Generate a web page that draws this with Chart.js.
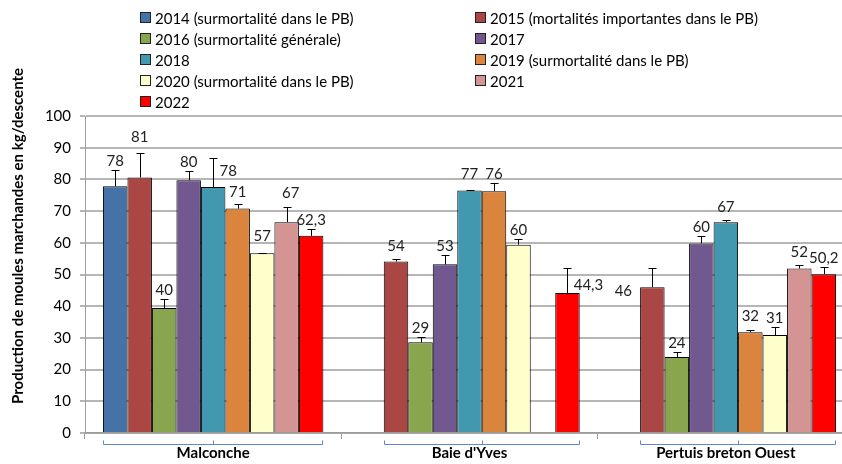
<!DOCTYPE html>
<html>
<head>
<meta charset="utf-8">
<script src="https://cdn.jsdelivr.net/npm/chart.js@4.4.1/dist/chart.umd.min.js"></script>
<style>
  html, body { margin: 0; padding: 0; overflow: hidden; background: #fff; }
  #wrap { position: relative; width: 860px; height: 464px; }
  #legend {
    position: absolute; left: 140px; top: 7px;
    display: grid; grid-template-columns: 335px 300px; grid-auto-rows: 21px;
    font-family: Lato, sans-serif; font-size: 15px; color: #000;
  }
  #legend div { display: flex; align-items: center; white-space: nowrap; }
  #legend span.box { width: 9px; height: 9px; border: 1px solid #222; margin-right: 4px; flex: none; }
</style>
</head>
<body>
<div id="wrap">
  <canvas id="chart"></canvas>
  <div id="legend"></div>
</div>
<script>
const categories = ['Malconche', "Baie d'Yves", 'Pertuis breton Ouest'];
const yTicks = [0, 10, 20, 30, 40, 50, 60, 70, 80, 90, 100];

const seriesNames = [
  '2014 (surmortalité dans le PB)',
  '2015 (mortalités importantes dans le PB)',
  '2016 (surmortalité générale)',
  '2017',
  '2018',
  '2019 (surmortalité dans le PB)',
  '2020 (surmortalité dans le PB)',
  '2021',
  '2022'
];
const seriesColors = ['#4572A7', '#AA4643', '#89A54E', '#71588F', '#4198AF', '#DB843D', '#FFFFCC', '#D49494', '#FF0000'];

// bar heights per year, one value per site
const v2014 = [77.8, null, null];
const v2015 = [80.6, 54.1, 46.0];
const v2016 = [39.4, 28.6, 24.0];
const v2017 = [79.7, 53.2, 59.8];
const v2018 = [77.6, 76.5, 66.5];
const v2019 = [70.8, 76.3, 31.8];
const v2020 = [56.7, 59.4, 30.9];
const v2021 = [66.5, null, 51.9];
const v2022 = [62.2, 44.2, 50.1];

// top of the error bars
const e2014 = [82.9, null, null];
const e2015 = [88.2, 54.8, 51.9];
const e2016 = [42.2, 30.2, 25.5];
const e2017 = [82.8, 56.1, 62.2];
const e2018 = [86.8, 76.5, 67.3];
const e2019 = [72.2, 78.9, 32.4];
const e2020 = [56.8, 61.3, 33.3];
const e2021 = [71.2, null, 52.9];
const e2022 = [64.4, 52.1, 52.3];

// value labels as printed
const l2014 = ['78', null, null];
const l2015 = ['81', '54', '46'];
const l2016 = ['40', '29', '24'];
const l2017 = ['80', '53', '60'];
const l2018 = ['78', '77', '67'];
const l2019 = ['71', '76', '32'];
const l2020 = ['57', '60', '31'];
const l2021 = ['67', null, '52'];
const l2022 = ['62,3', '44,3', '50,2'];

const values = [v2014, v2015, v2016, v2017, v2018, v2019, v2020, v2021, v2022];
const errTops = [e2014, e2015, e2016, e2017, e2018, e2019, e2020, e2021, e2022];
const labels = [l2014, l2015, l2016, l2017, l2018, l2019, l2020, l2021, l2022];

// hand-placed labels (series, site) -> [dx, dy]
const nudge = {
  '1,0': [0, -7], '4,0': [15, 22], '6,0': [0, -8], '7,0': [4, -5], '5,0': [0, -3],
  '1,1': [0, -4], '4,1': [0, -7], '8,1': [21, 26],
  '1,2': [-29, 32], '5,2': [0, -5], '4,2': [0, -4], '7,2': [0, -4]
};

const FONT = 'Lato, sans-serif';

const errorBars = {
  id: 'errorBars',
  afterDatasetsDraw(chart) {
    const { ctx } = chart;
    const y = chart.scales.y;
    ctx.save();
    chart.data.datasets.forEach((ds, i) => {
      chart.getDatasetMeta(i).data.forEach((bar, j) => {
        if (ds.data[j] == null) return;
        const x = Math.round(bar.x) + 0.5;
        const top = Math.round(y.getPixelForValue(ds.errTop[j])) + 0.5;
        ctx.strokeStyle = '#000';
        ctx.lineWidth = 1;
        ctx.beginPath();
        ctx.moveTo(x, bar.y);
        ctx.lineTo(x, top);
        ctx.moveTo(x - 4, top);
        ctx.lineTo(x + 4, top);
        ctx.stroke();
        const n = nudge[i + ',' + j] || [0, 0];
        ctx.fillStyle = '#222';
        ctx.font = '15px ' + FONT;
        ctx.textAlign = 'center';
        ctx.textBaseline = 'middle';
        ctx.fillText(ds.valueLabels[j], bar.x + n[0], top - 9 + n[1]);
      });
    });
    ctx.restore();
  }
};

const extras = {
  id: 'extras',
  afterDraw(chart) {
    const { ctx } = chart;
    ctx.save();
    // y axis title
    ctx.translate(18, 236);
    ctx.rotate(-Math.PI / 2);
    ctx.font = 'bold 15px ' + FONT;
    ctx.fillStyle = '#000';
    ctx.textAlign = 'center';
    ctx.textBaseline = 'middle';
    ctx.fillText('Production de moules marchandes en kg/descente', 0, 0);
    ctx.restore();

    // brackets under each group
    ctx.save();
    ctx.strokeStyle = '#5B8BCB';
    ctx.lineWidth = 1;
    const by = chart.chartArea.bottom + 11.5;
    categories.forEach((c, j) => {
      let left = Infinity, right = -Infinity;
      chart.data.datasets.forEach((ds, i) => {
        if (ds.data[j] == null) return;
        const bar = chart.getDatasetMeta(i).data[j];
        left = Math.min(left, bar.x - bar.width / 2);
        right = Math.max(right, bar.x + bar.width / 2);
      });
      const mid = Math.round((left + right) / 2) + 0.5;
      left = Math.round(left) + 0.5;
      right = Math.round(right) - 0.5;
      ctx.beginPath();
      ctx.moveTo(left, by - 4);
      ctx.lineTo(left, by);
      ctx.lineTo(right, by);
      ctx.lineTo(right, by - 4);
      ctx.moveTo(mid, by);
      ctx.lineTo(mid, by - 4);
      ctx.stroke();
    });
    ctx.restore();
  }
};

const datasets = seriesNames.map((name, i) => ({
  label: name,
  data: values[i],
  errTop: errTops[i],
  valueLabels: labels[i],
  backgroundColor: seriesColors[i],
  borderColor: '#000',
  borderWidth: 1,
  categoryPercentage: 0.86,
  barPercentage: 1.0
}));

const legend = document.getElementById('legend');
seriesNames.forEach((name, i) => {
  const d = document.createElement('div');
  d.innerHTML = '<span class="box" style="background:' + seriesColors[i] + '"></span>' + name;
  legend.appendChild(d);
});

new Chart(document.getElementById('chart'), {
  type: 'bar',
  data: { labels: categories, datasets },
  options: {
    responsive: true,
    maintainAspectRatio: false,
    animation: false,
    layout: { padding: { top: 116, left: 0, right: 6, bottom: 0 } },
    plugins: {
      legend: { display: false },
      tooltip: { enabled: false }
    },
    scales: {
      x: {
        grid: { display: true, drawOnChartArea: false, color: '#9A9A9A', lineWidth: 1, tickLength: 6, offset: true },
        border: { color: '#9A9A9A', width: 1.5 },
        ticks: { color: '#000', font: { family: FONT, size: 15, weight: 'bold' }, padding: 5 },
        afterFit: s => { s.height = 31; }
      },
      y: {
        min: 0,
        max: 100,
        afterBuildTicks: s => { s.ticks = yTicks.map(v => ({ value: v })); },
        grid: { color: '#B6B6B6', lineWidth: 2, tickLength: 5 },
        border: { color: '#A0A0A0', width: 1 },
        ticks: { color: '#000', font: { family: FONT, size: 15 }, padding: 9 },
        afterFit: s => { s.width = 85; }
      }
    }
  },
  plugins: [errorBars, extras]
});
</script>
</body>
</html>
